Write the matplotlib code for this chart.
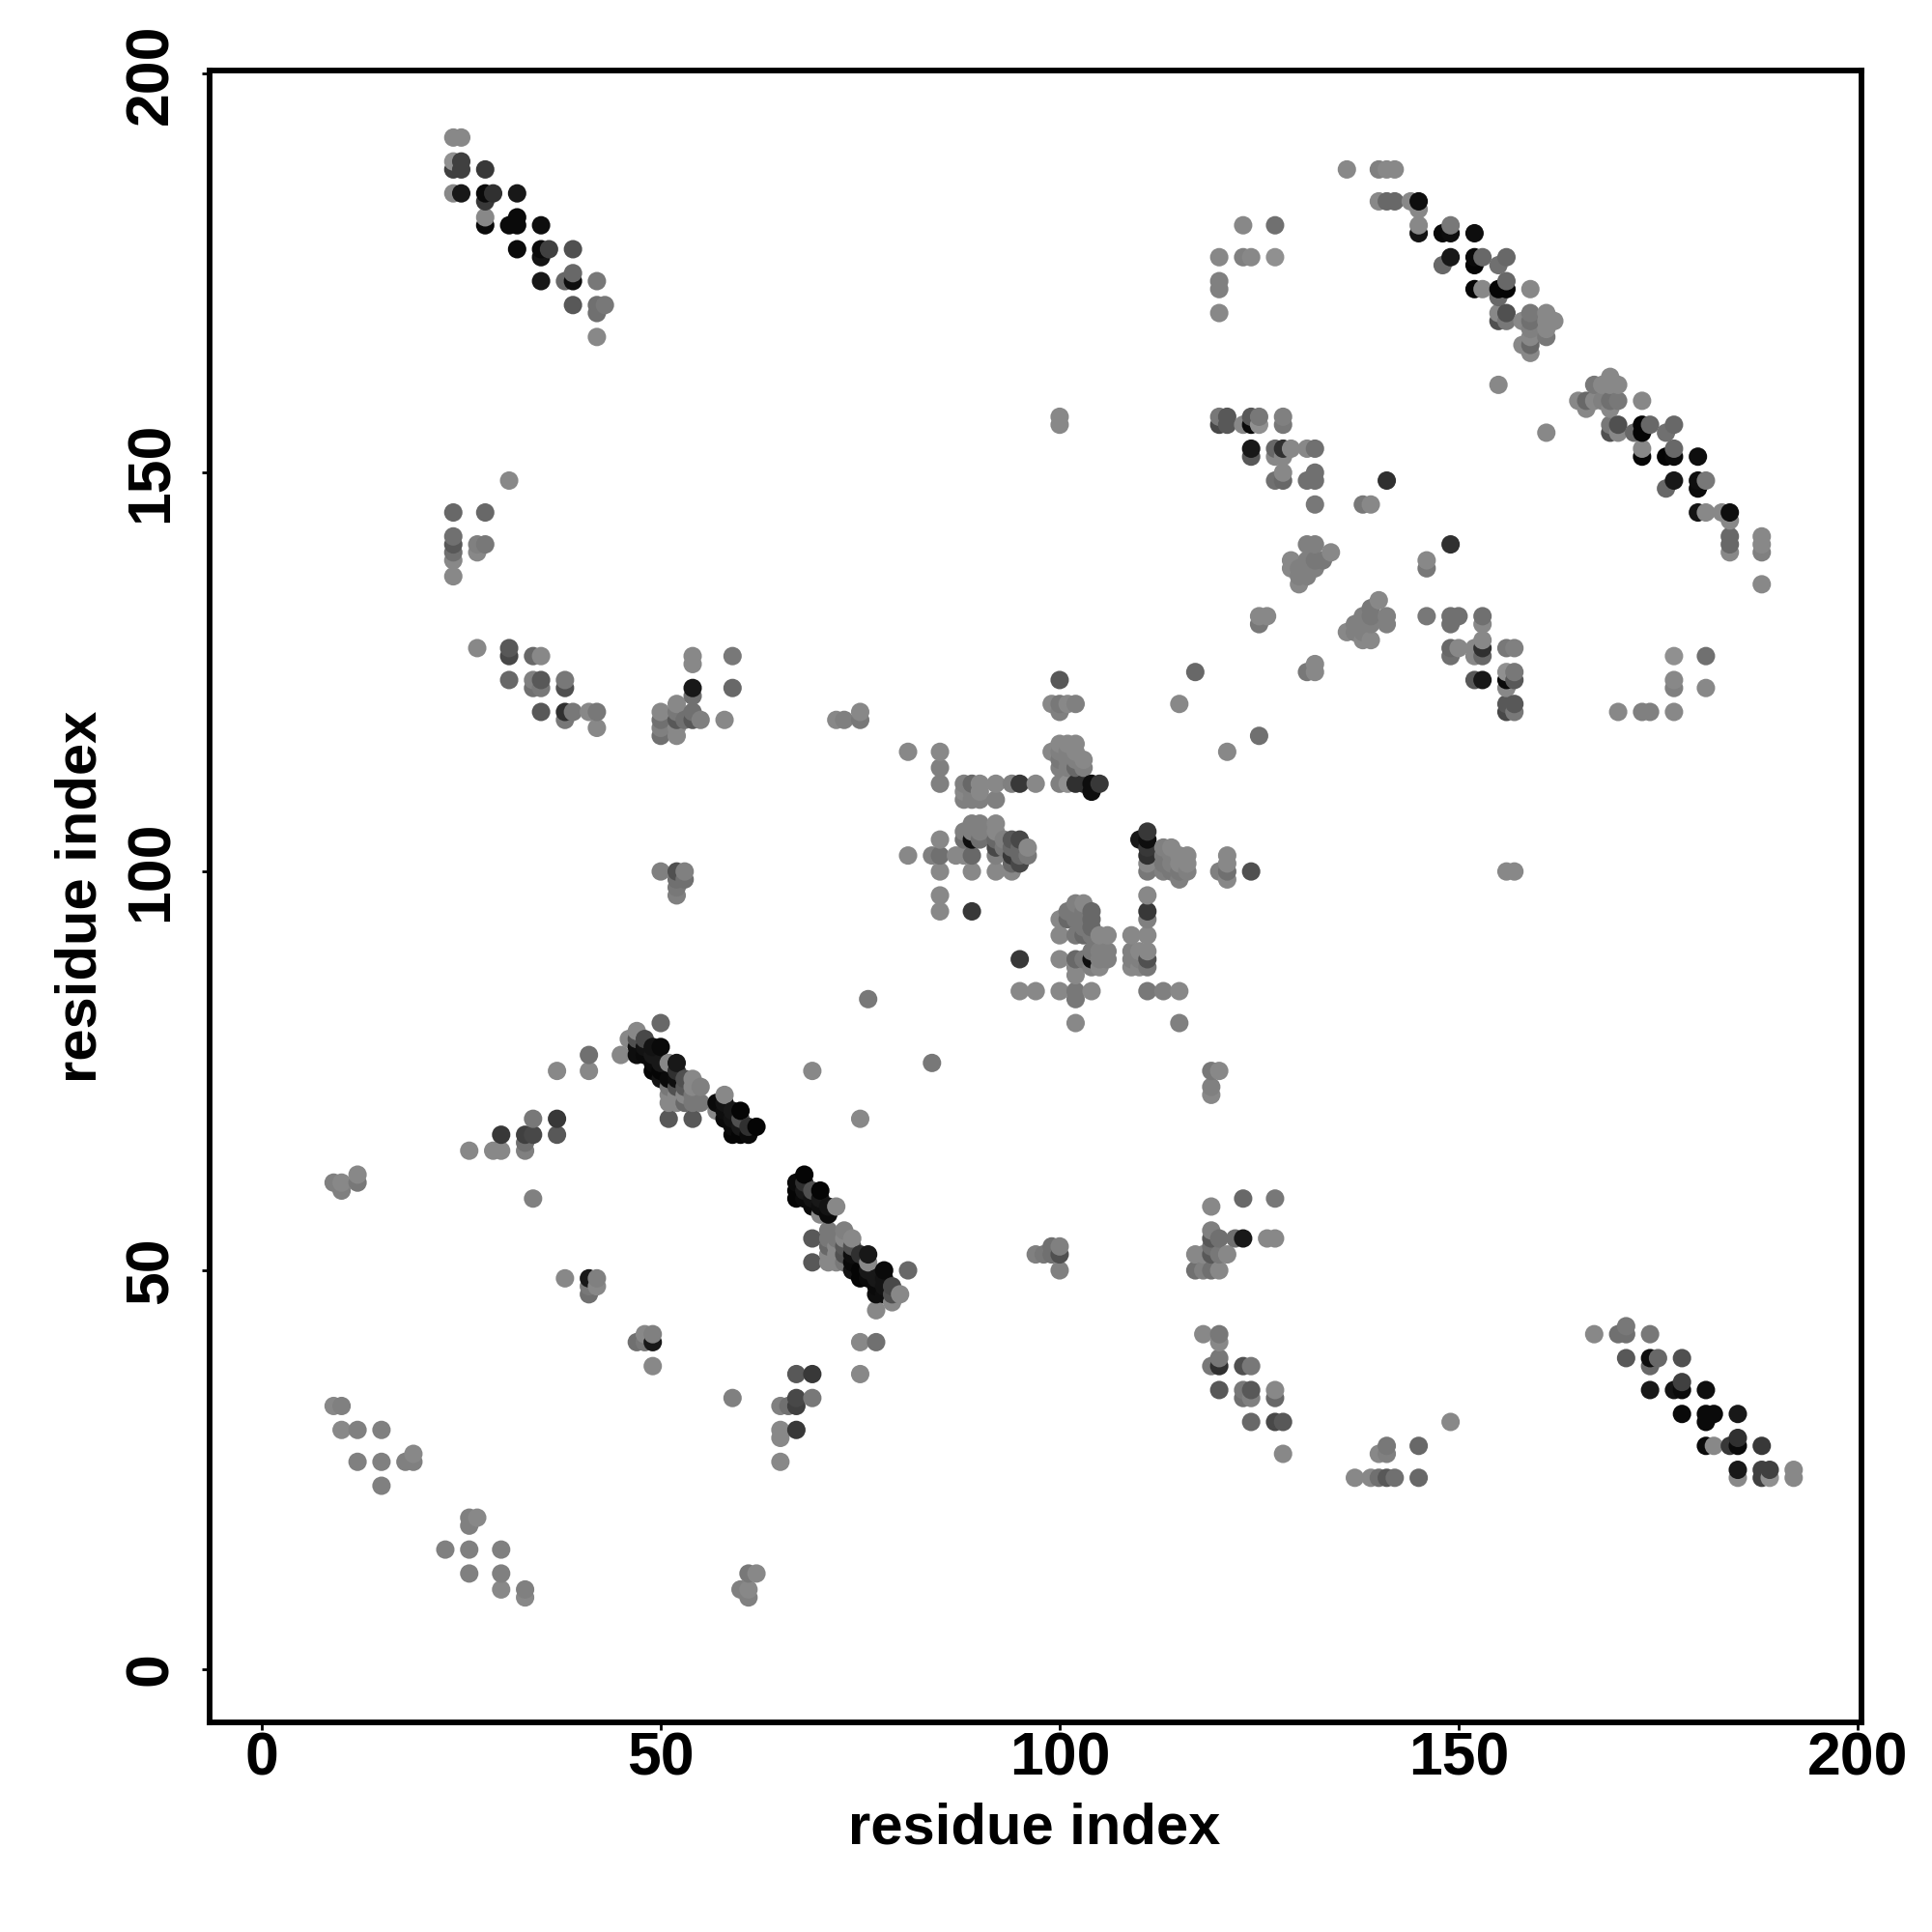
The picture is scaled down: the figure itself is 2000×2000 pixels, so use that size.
import numpy as np
import matplotlib
matplotlib.use("Agg")
import matplotlib.pyplot as plt

plt.rcParams['font.family'] = ['Liberation Sans', 'DejaVu Sans']

# Contacts as (residue i, residue j, grey level), i < j. The map is symmetric.
sheet_low = [(9,33,0x80),(10,33,0x78),(10,30,0x80),(12,30,0x78),(15,30,0x78),(12,26,0x78),(15,26,0x78),
 (18,26,0x78),(19,26,0x78),(19,27,0x80),(15,23,0x78),
 (9,61,0x78),(10,61,0x80),(10,60,0x78),(12,62,0x80),(12,61,0x70)]
sheet_a = [(26,65,0x80),(29,65,0x80),(30,65,0x80),(33,65,0x78),(33,66,0x68),(30,67,0x38),(33,67,0x40),
 (34,67,0x48),(37,67,0x58),(34,69,0x70),(37,69,0x38),(34,59,0x78),(38,49,0x80),(41,49,0x28),(42,49,0x78),
 (42,48,0x80),(41,48,0x70),(41,47,0x68),(37,75,0x80),(41,75,0x80),(41,77,0x68),(45,77,0x80),(46,79,0x80),
 (47,80,0x80),(47,79,0x50),(48,79,0x48),(47,78,0x18),(48,78,0x20),(49,78,0x20),(50,78,0x10),(47,77,0x18),
 (48,77,0x10),(49,77,0x28),(49,76,0x10),(50,76,0x28),(51,76,0x80),(52,76,0x28),(49,75,0x08),(50,75,0x08),
 (52,75,0x30),(50,74,0x20),(51,74,0x10),(52,74,0x18),(53,74,0x50),(54,74,0x80),(51,73,0x70),(52,73,0x50),
 (53,73,0x58),(54,73,0x80),(55,73,0x78),(51,72,0x80),(52,72,0x80),(53,72,0x80),(54,72,0x70),(51,71,0x80),
 (52,71,0x80),(53,71,0x60),(54,71,0x70),(55,71,0x70),(51,69,0x58),(54,69,0x58),(50,81,0x60),(58,72,0x80),
 (57,71,0x10),(58,71,0x20),(57,70,0x80),(58,70,0x18),(59,70,0x28),(60,70,0x08),(58,69,0x10),(59,69,0x20),
 (60,69,0x50),(59,68,0x10),(60,68,0x28),(61,68,0x30),(62,68,0x08),(59,67,0x08),(60,67,0x08),(61,67,0x10),
 (69,75,0x80),(75,69,0x80),(76,84,0x70)]
sheet_b = [(24,192,0x80),(25,192,0x80),(24,189,0x88),(25,189,0x40),(24,188,0x40),(25,188,0x40),(28,188,0x38),
 (24,185,0x80),(25,185,0x28),(28,185,0x10),(29,185,0x30),(32,185,0x28),(28,184,0x38),(28,182,0x80),
 (28,181,0x10),(31,181,0x10),(32,181,0x10),(32,182,0x10),(35,181,0x18),(32,178,0x10),(35,178,0x10),
 (36,178,0x40),(35,177,0x20),(39,178,0x50),(35,174,0x28),(38,174,0x60),(39,174,0x18),(39,175,0x60),
 (42,174,0x70),(39,171,0x58),(42,171,0x68),(43,171,0x70),(42,170,0x68),(42,167,0x80)]
sheet_c = [(31,149,0x80),(24,145,0x60),(28,145,0x60),(24,142,0x68),(24,141,0x58),(24,140,0x68),(24,139,0x80),
 (24,137,0x80),(27,141,0x78),(28,141,0x70),(27,140,0x80),(27,128,0x80),(31,128,0x58),(31,127,0x48),
 (34,127,0x60),(35,127,0x80),(31,124,0x60),(34,124,0x78),(35,124,0x58),(38,124,0x70),(34,123,0x68),
 (35,123,0x70),(38,123,0x50),(35,120,0x58),(38,120,0x30),(39,120,0x70),(41,120,0x80),(42,120,0x70),
 (38,119,0x70),(42,118,0x80),(54,127,0x80),(54,126,0x80),(59,127,0x70),(54,123,0x28),(59,123,0x60),
 (54,122,0x68),(52,121,0x80),(50,120,0x80),(52,120,0x70),(54,120,0x68),(50,119,0x68),(52,119,0x58),
 (53,119,0x68),(54,119,0x58),(55,119,0x78),(58,119,0x80),(50,118,0x78),(52,118,0x80),(50,117,0x68),
 (52,117,0x80),(50,100,0x78),(52,100,0x50),(53,100,0x78),(53,99,0x68),(52,99,0x68),(52,98,0x70),(52,97,0x78),
 (72,119,0x80),(73,119,0x78),(75,119,0x70),(75,120,0x80)]
core = [(81,115,0x80),(85,115,0x80),(99,115,0x80),(100,116,0x80),(101,116,0x80),(102,116,0x80),(100,115,0x78),
 (101,115,0x78),(102,115,0x80),(100,114,0x70),(101,114,0x78),(102,114,0x78),(103,114,0x80),(85,113,0x78),
 (100,113,0x78),(101,113,0x78),(102,113,0x60),(103,113,0x78),(85,111,0x78),(88,111,0x78),(89,111,0x60),
 (90,111,0x80),(92,111,0x80),(94,111,0x78),(95,111,0x38),(97,111,0x80),(100,111,0x78),(101,111,0x88),
 (102,111,0x30),(103,111,0x30),(104,111,0x18),(105,111,0x38),(104,110,0x18),(88,110,0x80),(89,110,0x78),
 (90,110,0x80),(88,109,0x78),(89,109,0x78),(90,109,0x78),(92,109,0x78),(89,106,0x78),(90,106,0x78),
 (92,106,0x80),(88,105,0x78),(89,105,0x78),(90,105,0x78),(92,105,0x80),(85,104,0x80),(88,104,0x68),
 (89,104,0x18),(90,104,0x68),(92,104,0x60),(93,104,0x78),(94,104,0x58),(95,104,0x48),(92,103,0x48),
 (93,103,0x70),(94,103,0x60),(95,103,0x60),(96,103,0x80),(81,102,0x80),(84,102,0x78),(85,102,0x68),
 (87,102,0x80),(88,102,0x80),(89,102,0x60),(92,102,0x78),(94,102,0x38),(95,102,0x60),(96,102,0x70),
 (94,101,0x60),(95,101,0x48),(85,100,0x80),(89,100,0x80),(92,100,0x80),(94,100,0x80),(85,97,0x80),
 (85,95,0x80),(89,95,0x38),(95,89,0x38),(99,121,0x80),(100,121,0x70),(101,121,0x80),(102,121,0x78),
 (100,120,0x78),(100,124,0x58),(100,156,0x80),(100,157,0x80)]
core_lower = [(96,102,0x78),(96,103,0x80),(95,101,0x70),(95,102,0x70),(95,103,0x70),(95,104,0x60),(94,100,0x80),
 (94,102,0x70),(94,103,0x70),(94,104,0x60),(92,100,0x80),(92,102,0x70),(92,103,0x60),(92,104,0x70),
 (92,105,0x80),(92,106,0x80),(92,109,0x80),(92,111,0x80),(93,103,0x70),(93,104,0x60),(90,104,0x70),
 (90,106,0x78),(90,109,0x78),(90,110,0x80),(90,111,0x80),(89,100,0x80),(89,102,0x60),(89,103,0x70),
 (89,104,0x18),(89,105,0x78),(89,106,0x78),(89,109,0x78),(89,110,0x78),(89,111,0x50),(88,104,0x78),
 (88,105,0x80),(88,109,0x80),(88,110,0x80),(88,111,0x70),(87,102,0x80),(85,100,0x80),(85,102,0x70),
 (85,104,0x80),(85,111,0x70),(85,113,0x78),(85,115,0x80),(84,102,0x70),(81,102,0x80),(81,115,0x78)]
core_right = [(105,111,0x38),(104,110,0x28),(104,111,0x18),(103,111,0x38),(102,111,0x30),(101,111,0x80),(100,111,0x70),
 (103,113,0x78),(103,114,0x80),(102,113,0x70),(102,114,0x78),(101,113,0x70),(101,114,0x78),(102,115,0x80),
 (102,116,0x80),(101,115,0x80),(101,116,0x80),(100,113,0x78),(100,114,0x70),(100,115,0x70),(100,116,0x78),
 (99,115,0x78),(102,121,0x80),(101,121,0x80),(100,120,0x78),(100,121,0x68),(99,121,0x80),(100,124,0x50),
 (117,125,0x68),(115,121,0x80),(121,115,0x80),(125,117,0x60)]
sheet_d = [(120,157,0x70),(121,157,0x58),(124,157,0x58),(125,157,0x70),(128,157,0x78),(120,156,0x48),(121,156,0x58),
 (123,156,0x80),(124,156,0x10),(125,156,0x88),(128,156,0x70),(124,153,0x28),(127,153,0x60),(128,153,0x30),
 (129,153,0x80),(131,153,0x80),(132,153,0x68),(124,152,0x58),(127,152,0x80),(128,152,0x80),(128,150,0x80),
 (132,150,0x68),(127,149,0x68),(128,149,0x60),(131,149,0x68),(132,149,0x68),(141,149,0x30),(132,146,0x70),
 (138,146,0x70),(139,146,0x80),(131,141,0x78),(132,141,0x78),(134,140,0x80),(129,139,0x80),(131,139,0x78),
 (132,139,0x70),(133,139,0x70),(129,138,0x80),(130,138,0x78),(131,138,0x78),(132,138,0x78),(130,137,0x78),
 (131,137,0x78),(130,136,0x80),(149,141,0x30),(146,139,0x80),(146,138,0x70),(149,132,0x68),(150,132,0x70),
 (153,132,0x68),(149,131,0x68),(153,131,0x80),(149,128,0x68),(150,128,0x80),(152,128,0x80),(153,129,0x80),
 (153,128,0x28),(156,128,0x70),(157,128,0x78),(152,127,0x80),(149,127,0x68),(153,127,0x50),(131,125,0x70),
 (132,125,0x80),(132,126,0x80),(152,124,0x68),(153,124,0x28),(156,125,0x80),(157,125,0x70),(156,124,0x08),
 (157,124,0x58),(156,123,0x80),(156,121,0x50),(157,121,0x50),(156,120,0x30),(157,120,0x70),(146,132,0x70)]
sheet_e = [(120,177,0x80),(123,177,0x78),(124,177,0x80),(127,177,0x88),(123,181,0x80),(127,181,0x68),(120,174,0x78),
 (120,173,0x78),(120,170,0x80),(136,188,0x80),(140,188,0x78),(141,188,0x80),(142,188,0x80),(140,184,0x80),
 (141,184,0x60),(142,184,0x60),(144,184,0x80),(145,184,0x18),(145,183,0x80),(145,181,0x80),(145,180,0x20),
 (148,180,0x10),(149,180,0x18),(149,181,0x70),(152,180,0x18),(148,176,0x60),(149,177,0x28),(152,177,0x10),
 (153,177,0x60),(152,176,0x08),(155,176,0x68),(156,177,0x60),(152,173,0x08),(153,173,0x80),(155,173,0x08),
 (156,173,0x08),(156,174,0x60),(159,173,0x80),(155,172,0x60),(155,170,0x80),(156,170,0x50),(155,169,0x50),
 (156,169,0x70),(158,169,0x80),(159,170,0x70),(159,169,0x68),(161,170,0x80),(162,169,0x80),(161,169,0x80),
 (159,168,0x78),(161,167,0x70),(161,168,0x80),(159,167,0x80),(158,166,0x80),(159,166,0x60),(159,165,0x80),
 (155,161,0x80)]
sheet_f = [(170,120,0x80),(173,120,0x78),(174,120,0x78),(177,120,0x80),(177,123,0x70),(177,124,0x80),
 (181,123,0x78),(177,127,0x80),(181,127,0x60)]

def collect(*groups):
    seen = {}
    for g in groups:
        for i, j, v in g:
            seen.setdefault((i, j), v)
            seen.setdefault((j, i), v)
    return seen

table = collect(sheet_low, sheet_a, sheet_b, sheet_c, core, sheet_d, sheet_e, sheet_f)
# the two halves of the central block where the mirrored reading differs
for (i, j, v) in core_lower + core_right:
    table[(j, i)] = v

keys = sorted(table)
xs = np.array([k[0] for k in keys])
ys = np.array([k[1] for k in keys])
levels = np.array([table[k] for k in keys], dtype=float)
levels = np.where(levels >= 0x60, levels + 8, levels)
levels = np.where(levels < 0x30, levels * 0.6, levels)
greys = levels / 255

fig = plt.figure(figsize=(20, 20), dpi=100, facecolor='white')
ax = fig.add_axes([217/2000, 1 - 1783/2000, (1927-217)/2000, (1783-73)/2000])
ax.scatter(xs, ys, s=188, c=[(g, g, g) for g in greys], linewidths=0, zorder=3)
ax.set_xlim(-6.54, 200.5)
ax.set_ylim(-6.66, 200.4)

for s in ax.spines.values():
    s.set_linewidth(4.2)
ticks = [0, 50, 100, 150, 200]
ax.set_xticks(ticks)
ax.set_yticks(ticks)
ax.set_xticklabels([str(t) for t in ticks], fontsize=45, fontweight='bold')
ax.set_yticklabels([str(t) for t in ticks], fontsize=45, fontweight='bold', rotation=90, va='center')
ax.tick_params(axis='both', length=6, width=2)
ax.tick_params(axis='x', pad=0)
ax.tick_params(axis='y', pad=16)
ax.set_xlabel('residue index', fontsize=43, fontweight='bold')
ax.set_ylabel('residue index', fontsize=43, fontweight='bold')
ax.xaxis.set_label_coords(1071/2000, 1 - 1893/2000, transform=fig.transFigure)
ax.yaxis.set_label_coords(84/2000, 1 - 928/2000, transform=fig.transFigure)
ax.xaxis.label.set_verticalalignment('center')
ax.yaxis.label.set_verticalalignment('center')
fig.savefig('out.png', dpi=100)
